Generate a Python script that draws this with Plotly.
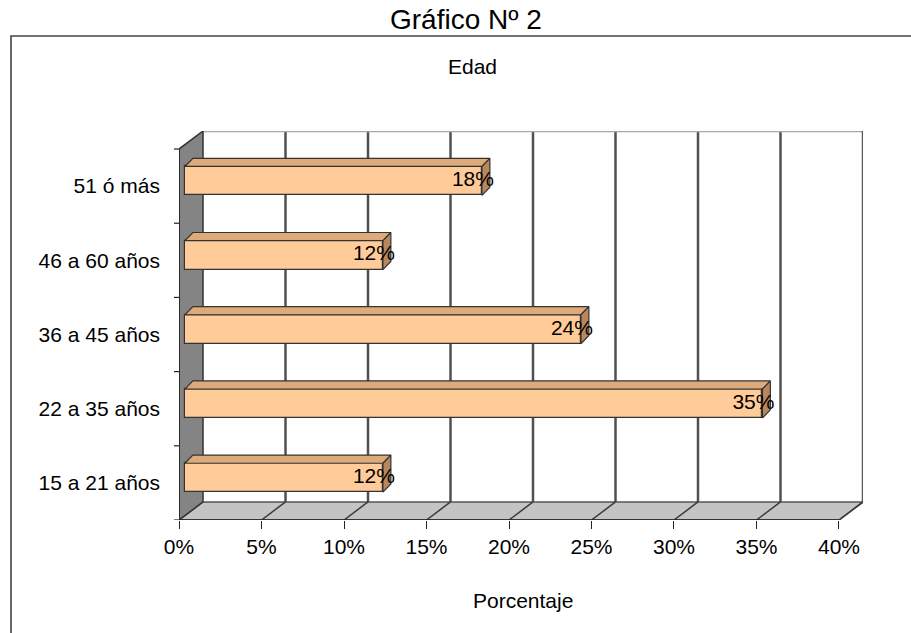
import plotly.graph_objects as go

# Age groups (bottom to top) and their share of respondents (%)
categories = ["15 a 21 años", "22 a 35 años", "36 a 45 años", "46 a 60 años", "51 ó más"]
values = [12, 35, 24, 12, 18]
x_ticks = [0, 5, 10, 15, 20, 25, 30, 35, 40]
x_tick_labels = [f"{t}%" for t in x_ticks]

FONT = "Liberation Sans, Arial, sans-serif"
W, H = 911, 633

# 3-D box geometry in axis units
X_MAX = 40
DEPTH_X = 1.455          # back wall offset along x (percent units)
DEPTH_Y = 0.243          # back wall offset along y (category units)
Y_LO, Y_HI = -0.5, len(categories) - 0.5
BAR_OFF_X = 0.36         # bar front face sits slightly inside the box
BAR_OFF_Y = 0.07
BAR_W = 0.39
TOP_DX = 0.48            # bar depth (top/side faces)
TOP_DY = 0.11

FACE = "#FFCC99"
TOP = "#DDAA7C"
SIDE = "#B8875E"
EDGE = "#333333"

L, R, T, B = 179, 48, 131, 113

fig = go.Figure()

# front faces of the bars
fig.add_trace(go.Bar(
    y=[i + BAR_OFF_Y for i in range(len(categories))],
    x=values,
    base=BAR_OFF_X,
    orientation="h",
    width=BAR_W,
    marker=dict(color=FACE, line=dict(color=EDGE, width=1.2)),
    hoverinfo="skip",
    showlegend=False,
))

# top and side faces give the bars their depth
for i, v in enumerate(values):
    yc = i + BAR_OFF_Y
    yt, yb = yc + BAR_W / 2, yc - BAR_W / 2
    x0, x1 = BAR_OFF_X, BAR_OFF_X + v
    fig.add_trace(go.Scatter(
        x=[x0, x1, x1 + TOP_DX, x0 + TOP_DX, x0],
        y=[yt, yt, yt + TOP_DY, yt + TOP_DY, yt],
        mode="lines", fill="toself", fillcolor=TOP,
        line=dict(color=EDGE, width=1.2), hoverinfo="skip", showlegend=False,
    ))
    fig.add_trace(go.Scatter(
        x=[x1, x1 + TOP_DX, x1 + TOP_DX, x1, x1],
        y=[yb, yb + TOP_DY, yt + TOP_DY, yt, yb],
        mode="lines", fill="toself", fillcolor=SIDE,
        line=dict(color=EDGE, width=1.2), hoverinfo="skip", showlegend=False,
    ))

# value labels at the bar ends
fig.add_trace(go.Scatter(
    x=[BAR_OFF_X + v + TOP_DX + 0.25 for v in values],
    y=[i + BAR_OFF_Y for i in range(len(categories))],
    mode="text",
    text=[f"{v}%" for v in values],
    textposition="middle left",
    textfont=dict(family=FONT, size=21, color="black"),
    hoverinfo="skip", showlegend=False,
))

shapes = []
# back wall
shapes.append(dict(type="rect", layer="below", xref="x", yref="y",
                   x0=DEPTH_X, x1=X_MAX + DEPTH_X, y0=Y_LO + DEPTH_Y, y1=Y_HI + DEPTH_Y,
                   fillcolor="white", line=dict(width=0)))
# gridlines on the back wall
for t in x_ticks[1:-1]:
    shapes.append(dict(type="line", layer="below", xref="x", yref="y",
                       x0=t + DEPTH_X, x1=t + DEPTH_X, y0=Y_LO + DEPTH_Y, y1=Y_HI + DEPTH_Y,
                       line=dict(color="#505050", width=2.5)))
# top and right edges of the back wall
shapes.append(dict(type="line", layer="below", xref="x", yref="y",
                   x0=DEPTH_X, x1=X_MAX + DEPTH_X, y0=Y_HI + DEPTH_Y, y1=Y_HI + DEPTH_Y,
                   line=dict(color="#a8a8a8", width=2.5)))
shapes.append(dict(type="line", layer="below", xref="x", yref="y",
                   x0=X_MAX + DEPTH_X, x1=X_MAX + DEPTH_X, y0=Y_LO + DEPTH_Y, y1=Y_HI + DEPTH_Y,
                   line=dict(color="#5a5a5a", width=2.5)))
# floor
shapes.append(dict(type="path", layer="below", xref="x", yref="y",
                   path=f"M 0 {Y_LO} L {X_MAX} {Y_LO} L {X_MAX + DEPTH_X} {Y_LO + DEPTH_Y} "
                        f"L {DEPTH_X} {Y_LO + DEPTH_Y} Z",
                   fillcolor="#c4c4c4", line=dict(color="#555555", width=1.5)))
for t in x_ticks[1:]:
    shapes.append(dict(type="line", layer="below", xref="x", yref="y",
                       x0=t, x1=t + DEPTH_X, y0=Y_LO, y1=Y_LO + DEPTH_Y,
                       line=dict(color="#3a3a3a", width=1.5)))
# left wall
shapes.append(dict(type="path", layer="below", xref="x", yref="y",
                   path=f"M 0 {Y_LO} L {DEPTH_X} {Y_LO + DEPTH_Y} L {DEPTH_X} {Y_HI + DEPTH_Y} "
                        f"L 0 {Y_HI} Z",
                   fillcolor="#848484", line=dict(color="#333333", width=1.5)))
# front axis lines
shapes.append(dict(type="line", layer="above", xref="x", yref="y",
                   x0=0, x1=X_MAX, y0=Y_LO, y1=Y_LO, line=dict(color="#222", width=1.5)))
shapes.append(dict(type="line", layer="above", xref="x", yref="y",
                   x0=0, x1=0, y0=Y_LO, y1=Y_HI, line=dict(color="#222", width=1.5)))
# y-axis tick marks on category boundaries
for k in range(len(categories) + 1):
    shapes.append(dict(type="line", layer="above", xref="paper", yref="y",
                       x0=-5 / (W - L - R), x1=0, y0=Y_LO + k, y1=Y_LO + k,
                       line=dict(color="#222", width=1.2)))

# outer frame of the chart area
pw, ph = W - L - R, H - T - B
def px_x(p):
    return (p - L) / pw
def px_y(p):
    return (H - B - p) / ph
shapes.append(dict(type="path", layer="above", xref="paper", yref="paper",
                   path=f"M {px_x(11)} {px_y(640)} L {px_x(11)} {px_y(36)} L {px_x(915)} {px_y(36)}",
                   line=dict(color="#444", width=1.6)))

annotations = [
    dict(text="Gráfico Nº 2", x=px_x(466), y=px_y(20), font=dict(family=FONT, size=28, color="black")),
    dict(text="Edad", x=px_x(472), y=px_y(67), font=dict(family=FONT, size=21, color="black")),
    dict(text="Porcentaje", x=px_x(523), y=px_y(600), font=dict(family=FONT, size=21, color="black")),
]
for a in annotations:
    a.update(xref="paper", yref="paper", xanchor="center", yanchor="middle", showarrow=False)

fig.update_layout(
    width=W, height=H,
    margin=dict(l=L, r=R, t=T, b=B),
    paper_bgcolor="white", plot_bgcolor="white",
    shapes=shapes, annotations=annotations,
    bargap=0,
    xaxis=dict(range=[0, X_MAX + DEPTH_X], tickvals=x_ticks, ticktext=x_tick_labels,
               ticks="outside", ticklen=8, tickcolor="#222", tickwidth=1.2,
               showgrid=False, zeroline=False, showline=False,
               tickfont=dict(family=FONT, size=21, color="black"), fixedrange=True),
    yaxis=dict(range=[Y_LO, Y_HI + DEPTH_Y], tickvals=list(range(len(categories))),
               ticktext=categories, ticks="", ticklabelstandoff=18,
               showgrid=False, zeroline=False, showline=False,
               tickfont=dict(family=FONT, size=21, color="black"), fixedrange=True),
)

fig.write_html("out.html")
